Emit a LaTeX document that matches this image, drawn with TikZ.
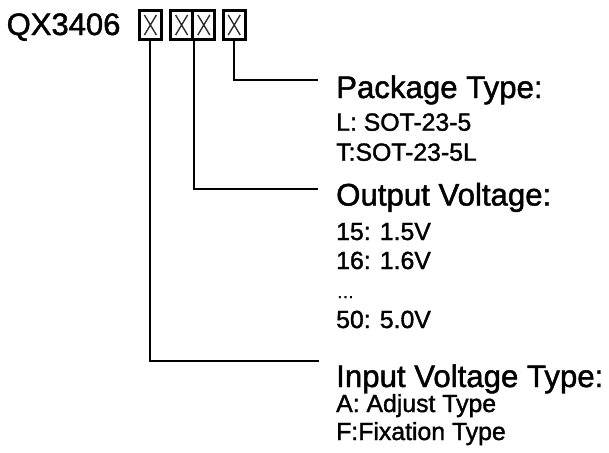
\documentclass[tikz,border=0pt]{standalone}
\usepackage{fontspec}
\setmainfont{Liberation Sans}[FakeBold=1.5]
\begin{document}
\begin{tikzpicture}[x=1pt,y=-1pt,
  pbox/.style={draw, line width=3pt, minimum width=22.2pt, minimum height=28.4pt, inner sep=0pt,
    path picture={\draw[line width=1.3pt, black!85]
      (path picture bounding box.center) ++(-6,-10) -- ++(12,20)
      (path picture bounding box.center) ++(6,-10) -- ++(-12,20);}},
  conn/.style={draw, line width=2pt},
  head/.style={anchor=base west, inner sep=0pt, font=\fontsize{31.2}{36}\selectfont},
  sub/.style={anchor=base west, inner sep=0pt, font=\fontsize{24.8}{28}\selectfont},
  title/.style={anchor=base west, inner sep=0pt, font=\fontsize{31}{36}\selectfont}]
\useasboundingbox (0,0) rectangle (609,452);
\node[title] (qx) at (6.5,35) {QX3406};
\node[pbox] (b1) at (150.4,25) {};
\node[pbox] (b2) at (181.6,25) {};
\node[pbox] (b3) at (203.8,25) {};
\node[pbox] (b4) at (234.2,25) {};
\coordinate (pk) at (318,80);
\coordinate (ov) at (318,189);
\coordinate (iv) at (319,360.5);
\draw[conn] (b4.south) |- (pk);
\draw[conn] (b2.south east) |- (ov);
\draw[conn] (b1.south) |- (iv);
\node[head] (h1) at (336,98) {Package Type:};
\node[sub] (s11) at (336,130.7) {L: SOT-23-5};
\node[sub] (s12) at (336,160.7) {T:SOT-23-5L};
\node[head] (h2) at (336,205.5) {Output Voltage:};
\node[sub] (s21) at (336,240) {15: 1.5V};
\node[sub] (s22) at (336,269) {16: 1.6V};
\node[anchor=base west, inner sep=0pt, font=\fontsize{17.5}{20}\selectfont] (s23) at (336.5,298) {…};
\node[sub] (s24) at (336,328) {50: 5.0V};
\node[head] (h3) at (336,387) {Input Voltage Type:};
\node[sub] (s31) at (336,412) {A: Adjust Type};
\node[sub] (s32) at (336,440) {F:Fixation Type};
\end{tikzpicture}
\end{document}
